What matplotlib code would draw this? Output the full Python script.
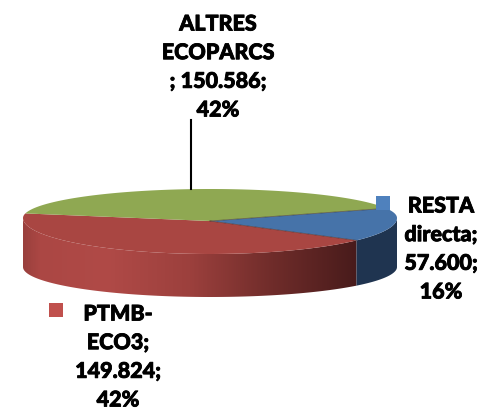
import numpy as np
import matplotlib
matplotlib.use('Agg')
import matplotlib.pyplot as plt
import matplotlib.patheffects as pe
from matplotlib.colors import LinearSegmentedColormap
from matplotlib.patches import Polygon, Rectangle

categories = ['RESTA directa', 'PTMB-ECO3', 'ALTRES ECOPARCS']
values = [57.600, 149.824, 150.586]
top_colours = ['#4673a9', '#a94642', '#8fa852']

plt.rcParams['font.family'] = ['Lato', 'DejaVu Sans']

cx, hub_y, rx = 210, 221, 187
top_y, back_ry, front_ry = 218, 29, 36
base_y, base_ry = 267, 30
start = 19.5

fig = plt.figure(figsize=(4.84, 4.12), dpi=100)
ax = fig.add_axes([0, 0, 1, 1])
ax.set_xlim(0, 484)
ax.set_ylim(412, 0)
ax.axis('off')


def rim(a0, a1, n=120):
    t = np.radians(np.linspace(a0, a1, n))
    s = np.sin(t)
    return np.column_stack([cx + rx * np.cos(t), top_y - np.where(s > 0, back_ry, front_ry) * s])


def base(a0, a1, n=120):
    t = np.radians(np.linspace(a0, a1, n))
    return np.column_stack([cx + rx * np.cos(t), base_y - base_ry * np.sin(t)])


# slices run clockwise from the start angle
shares = np.array(values) / sum(values) * 360
edges = start - np.concatenate([[0], np.cumsum(shares)])

# front side, the red part with its gradient
red_cmap = LinearSegmentedColormap.from_list('side', [(0, '#9a403d'), (0.05, '#ab4744'), (0.25, '#b04a47'),
                                                      (0.5, '#9c403d'), (0.75, '#6f2c2a'), (1, '#481b1b')])
a0, a1 = edges[1], -180.0
upper = rim(a0, a1)
side = np.vstack([upper, base(a1, a0)])
im = ax.imshow(np.linspace(0, 1, 256).reshape(1, -1), extent=(cx - rx, upper[0, 0], 412, 0), cmap=red_cmap,
               aspect='auto', zorder=1)
clip = Polygon(side, closed=True, transform=ax.transData, fc='none', ec='none')
ax.add_patch(clip)
im.set_clip_path(clip)
ax.set_xlim(0, 484)
ax.set_ylim(412, 0)

# front side, the blue part
ax.add_patch(Polygon(np.vstack([rim(0, edges[1]), base(edges[1], 0)]), closed=True, fc='#1f3450', ec='none', zorder=1))

# top of the pie
for i in range(len(values)):
    pts = np.vstack([[cx, hub_y], rim(edges[i], edges[i + 1])])
    ax.add_patch(Polygon(pts, closed=True, fc=top_colours[i], ec='none', zorder=2))
for e in edges[:2]:
    ax.plot(*np.array([[cx, hub_y], rim(e, e, 1)[0]]).T, color='#3a2a2a', lw=0.6, alpha=0.6, zorder=3)

# leader line and legend keys
ax.plot([191, 191], [120, 189], color='black', lw=1.5, zorder=4)
ax.add_patch(Rectangle((376, 196), 14, 14, fc='#4f81bd', ec='none', zorder=5))
ax.add_patch(Rectangle((49, 303), 14, 14, fc='#c0504d', ec='none', zorder=5))

# a thin stroke to get the heavier look of the original labels
style = dict(ha='center', va='center', fontsize=15.5, fontweight='black', color='black', linespacing=1.45, zorder=6,
             path_effects=[pe.withStroke(linewidth=0.6, foreground='black')])
ax.text(218, 67, 'ALTRES\nECOPARCS\n; 150.586;\n42%', **style)
ax.text(441, 249, 'RESTA\ndirecta;\n57.600;\n16%', **style)
ax.text(118, 357, 'PTMB-\nECO3;\n149.824;\n42%', **style)

fig.savefig('out.png', dpi=100)
